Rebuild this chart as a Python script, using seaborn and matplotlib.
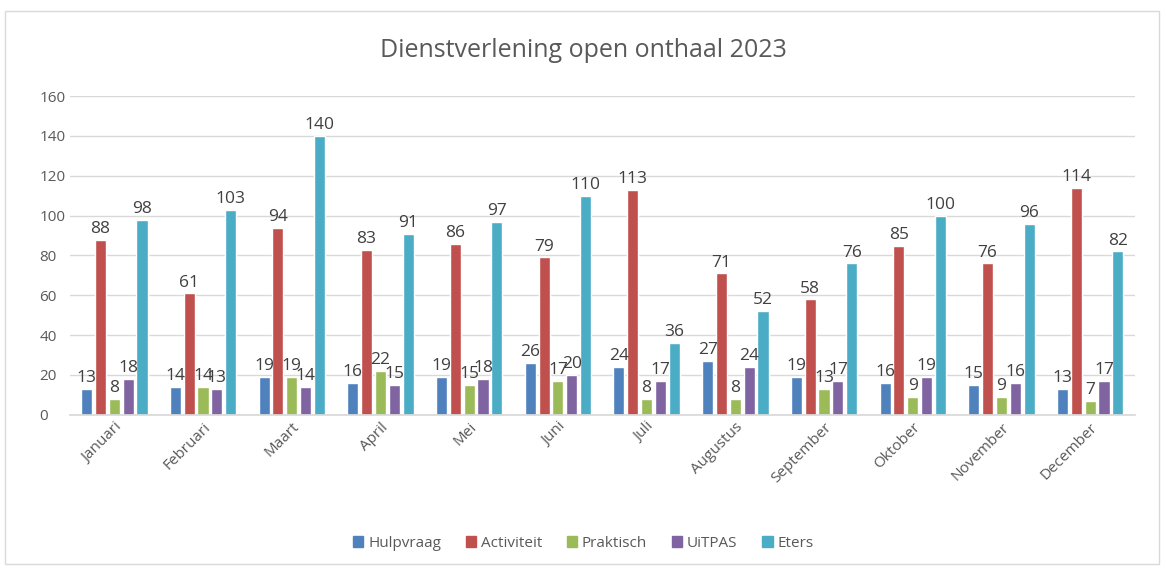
import numpy as np
import pandas as pd
import matplotlib.pyplot as plt
import matplotlib.patches as mpatches
import seaborn as sns

months = ['Januari', 'Februari', 'Maart', 'April', 'Mei', 'Juni', 'Juli',
          'Augustus', 'September', 'Oktober', 'November', 'December']
hulpvraag = [13, 14, 19, 16, 19, 26, 24, 27, 19, 16, 15, 13]
activiteit = [88, 61, 94, 83, 86, 79, 113, 71, 58, 85, 76, 114]
praktisch = [8, 14, 19, 22, 15, 17, 8, 8, 13, 9, 9, 7]
uitpas = [18, 13, 14, 15, 18, 20, 17, 24, 17, 19, 16, 17]
eters = [98, 103, 140, 91, 97, 110, 36, 52, 76, 100, 96, 82]

series = ['Hulpvraag', 'Activiteit', 'Praktisch', 'UiTPAS', 'Eters']
colors = ['#4F81BD', '#C0504D', '#9BBB59', '#8064A2', '#4BACC6']

rows = []
for name, vals in zip(series, [hulpvraag, activiteit, praktisch, uitpas, eters]):
    for m, v in zip(months, vals):
        rows.append({'maand': m, 'reeks': name, 'aantal': v})
df = pd.DataFrame(rows)

sns.set_theme(style='white')
plt.rcParams['font.family'] = ['Open Sans', 'DejaVu Sans']
text_col = '#595959'

fig = plt.figure(figsize=(11.66, 5.69), dpi=100)
ax = fig.add_axes([0.06, 0.271, 0.913, 0.56])

sns.barplot(data=df, x='maand', y='aantal', hue='reeks', order=months,
            hue_order=series, palette=colors, width=0.78, gap=0.2,
            saturation=1, ax=ax, legend=False)

for cont in ax.containers:
    ax.bar_label(cont, fontsize=12.5, color='#404040', padding=2)

ax.set_ylim(0, 160)
ax.set_yticks(range(0, 161, 20))
ax.yaxis.grid(True, color='#D9D9D9', linewidth=1)
ax.set_axisbelow(True)
for s in ['top', 'right', 'left']:
    ax.spines[s].set_visible(False)
ax.spines['bottom'].set_color('#D9D9D9')
ax.set_xlabel('')
ax.set_ylabel('')
ax.tick_params(axis='y', colors=text_col, labelsize=11, length=0, pad=22)
ax.tick_params(axis='x', colors=text_col, labelsize=11, length=0)
plt.setp(ax.get_xticklabels(), rotation=45, ha='right', rotation_mode='anchor')
for lab in ax.get_yticklabels():
    lab.set_horizontalalignment('left')
ax.set_xlim(-0.5, 11.5)

fig.text(0.5, 0.912, 'Dienstverlening open onthaal 2023', ha='center',
         va='center', fontsize=18, color=text_col)

handles = [mpatches.Patch(color=c, label=n) for n, c in zip(series, colors)]
fig.legend(handles=handles, loc='center', bbox_to_anchor=(0.5, 0.045),
           ncol=5, frameon=False, fontsize=11, handlelength=0.7,
           handleheight=0.7, handletextpad=0.3, columnspacing=1.6,
           labelcolor=text_col)

fig.patches.append(mpatches.Rectangle((0.004, 0.008), 0.99, 0.972,
                                      transform=fig.transFigure, fill=False,
                                      edgecolor='#D9D9D9', linewidth=1))

fig.savefig('out.png', dpi=100)
